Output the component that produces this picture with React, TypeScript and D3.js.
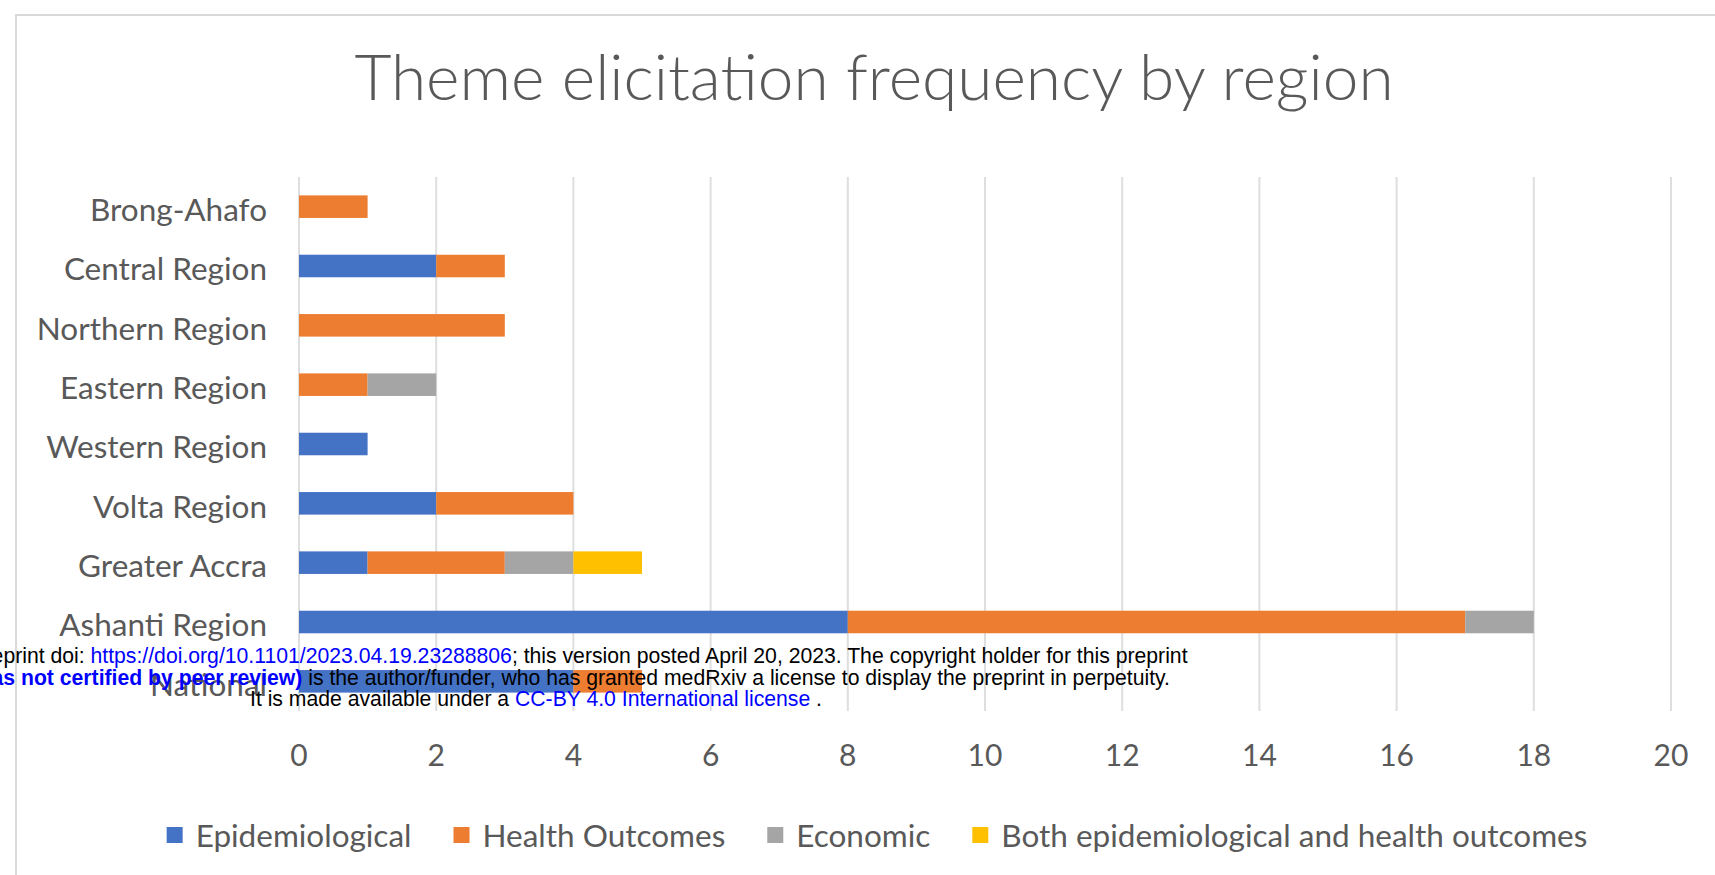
import React, { useRef, useEffect } from 'react'
import * as d3 from 'd3'

// categories (top to bottom)
const regions = [
  'Brong-Ahafo',
  'Central Region',
  'Northern Region',
  'Eastern Region',
  'Western Region',
  'Volta Region',
  'Greater Accra',
  'Ashanti Region',
  'National'
]

const themes = ['Epidemiological', 'Health Outcomes', 'Economic', 'Both epidemiological and health outcomes']
const themeColors = ['#4472C4', '#ED7D31', '#A5A5A5', '#FFC000']

// values per theme, in the order of regions
const epidemiological = [0, 2, 0, 0, 1, 2, 1, 8, 4]
const healthOutcomes = [1, 1, 3, 1, 0, 2, 2, 9, 1]
const economic = [0, 0, 0, 1, 0, 0, 1, 1, 0]
const bothEpiHealth = [0, 0, 0, 0, 0, 0, 1, 0, 0]

const xTicks = [0, 2, 4, 6, 8, 10, 12, 14, 16, 18, 20]

// medRxiv stamp printed over the figure
const stampLines = [
  [
    { t: 'medRxiv preprint doi: ', c: '#000', b: false },
    { t: 'https://doi.org/10.1101/2023.04.19.23288806', c: '#0000ff', b: false },
    { t: '; this version posted April 20, 2023. The copyright holder for this preprint', c: '#000', b: false }
  ],
  [
    { t: '(which was not certified by peer review)', c: '#0000ff', b: true },
    { t: ' is the author/funder, who has granted medRxiv a license to display the preprint in perpetuity.', c: '#000', b: false }
  ],
  [
    { t: 'It is made available under a ', c: '#000', b: false },
    { t: 'CC-BY 4.0 International license', c: '#0000ff', b: false },
    { t: ' .', c: '#000', b: false }
  ]
]

const W = 1715
const H = 875
const FONT = 'Lato, "Open Sans", sans-serif'

export default function App() {
  const svgRef = useRef<SVGSVGElement>(null)

  useEffect(() => {
    if (!svgRef.current) return
    const svg = d3.select(svgRef.current)
    svg.selectAll('*').remove()

    const rows = regions.map((r, i) => ({
      region: r,
      [themes[0]]: epidemiological[i],
      [themes[1]]: healthOutcomes[i],
      [themes[2]]: economic[i],
      [themes[3]]: bothEpiHealth[i]
    }))

    const x = d3.scaleLinear().domain([0, 20]).range([299, 1671])
    const y = d3.scaleBand<string>().domain(regions).range([177, 711]).paddingInner(0.62).paddingOuter(0.31)
    const color = d3.scaleOrdinal<string, string>().domain(themes).range(themeColors)

    svg.append('rect').attr('width', W).attr('height', H).attr('fill', '#fff')

    // chart frame
    svg.append('rect')
      .attr('x', 16).attr('y', 15)
      .attr('width', W + 40).attr('height', H + 40)
      .attr('fill', 'none')
      .attr('stroke', '#d9d9d9')
      .attr('stroke-width', 2)

    // title
    svg.append('text')
      .attr('x', 874).attr('y', 100)
      .attr('text-anchor', 'middle')
      .style('font-family', FONT)
      .style('font-weight', 300)
      .style('font-size', '64px')
      .style('fill', '#595959')
      .text('Theme elicitation frequency by region')

    // gridlines
    svg.append('g')
      .selectAll('line')
      .data(xTicks)
      .enter()
      .append('line')
      .attr('x1', d => x(d)).attr('x2', d => x(d))
      .attr('y1', 177).attr('y2', 711)
      .attr('stroke', '#dedede')
      .attr('stroke-width', 2)

    // tick labels
    svg.append('g')
      .selectAll('text')
      .data(xTicks)
      .enter()
      .append('text')
      .attr('x', d => x(d)).attr('y', 766)
      .attr('text-anchor', 'middle')
      .style('font-family', FONT)
      .style('font-size', '30px')
      .style('fill', '#595959')
      .text(d => d)

    // category labels
    svg.append('g')
      .selectAll('text')
      .data(regions)
      .enter()
      .append('text')
      .attr('x', 267)
      .attr('y', d => (y(d) ?? 0) + y.bandwidth() / 2)
      .attr('dy', '0.46em')
      .attr('text-anchor', 'end')
      .style('font-family', FONT)
      .style('font-size', '31.5px')
      .style('fill', '#595959')
      .text(d => d)

    // stacked bars
    const series = d3.stack<any>().keys(themes)(rows)
    svg.append('g')
      .selectAll('g')
      .data(series)
      .enter()
      .append('g')
      .attr('fill', d => color(d.key))
      .selectAll('rect')
      .data(d => d.filter(s => s[1] > s[0]))
      .enter()
      .append('rect')
      .attr('x', d => x(d[0]))
      .attr('width', d => x(d[1]) - x(d[0]))
      .attr('y', d => y(d.data.region) ?? 0)
      .attr('height', y.bandwidth())

    // legend
    const legend = svg.append('g')
    let cursor = 0
    themes.forEach((t, i) => {
      const item = legend.append('g').attr('transform', `translate(${cursor},0)`)
      item.append('rect')
        .attr('x', 0).attr('y', -8)
        .attr('width', 16).attr('height', 16)
        .attr('fill', themeColors[i])
      const txt = item.append('text')
        .attr('x', 29).attr('y', 0)
        .attr('dy', '0.38em')
        .style('font-family', FONT)
        .style('font-size', '31.5px')
        .style('fill', '#595959')
        .text(t)
      const len = (txt.node() as SVGTextElement).getComputedTextLength()
      cursor += 29 + len + (i < themes.length - 1 ? 42 : 0)
    })
    legend.attr('transform', `translate(${877 - cursor / 2},835)`)

    // preprint stamp
    const stamp = svg.append('g')
      .style('font-family', '"Liberation Sans", Arial, sans-serif')
      .style('font-size', '21.2px')
    stampLines.forEach((line, i) => {
      const tx = stamp.append('text')
        .attr('x', 536).attr('y', 663 + i * 21.5)
        .attr('text-anchor', 'middle')
      line.forEach(seg => {
        tx.append('tspan')
          .style('fill', seg.c)
          .style('font-weight', seg.b ? 'bold' : 'normal')
          .text(seg.t)
      })
    })
  }, [])

  return (
    <svg
      ref={svgRef}
      width={W}
      height={H}
      style={{ position: 'absolute', left: 0, top: 0, display: 'block' }}
    />
  )
}
